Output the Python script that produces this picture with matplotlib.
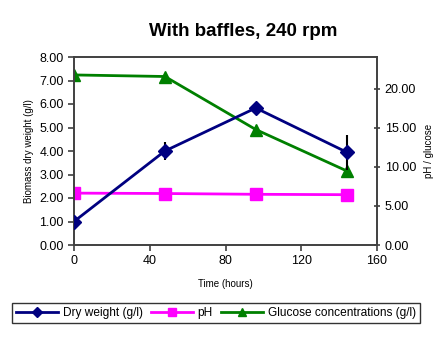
import matplotlib
matplotlib.use("Agg")
import matplotlib.pyplot as plt
from matplotlib.ticker import FormatStrFormatter

plt.rcParams['font.family'] = ['Liberation Sans', 'DejaVu Sans']

time_h = [0, 48, 96, 144]
dry_weight = [1.00, 4.00, 5.83, 3.95]
dry_weight_err = [0.0, 0.40, 0.15, 0.75]
ph = [6.65, 6.60, 6.50, 6.45]
glucose = [21.8, 21.6, 14.8, 9.5]

fig = plt.figure(figsize=(4.43, 3.39), dpi=100)
ax = fig.add_axes([74 / 443, 1 - 245 / 339, 303 / 443, 188 / 339])
ax2 = ax.twinx()

dw = ax.errorbar(time_h, dry_weight, yerr=dry_weight_err, color='#000080', ecolor='black',
                 elinewidth=1.5, lw=2, marker='D', ms=7, label='Dry weight (g/l)', zorder=3)
ph_line, = ax2.plot(time_h, ph, color='#FF00FF', lw=2, marker='s', ms=8, label='pH')
glu_line, = ax2.plot(time_h, glucose, color='#008000', lw=2, marker='^', ms=9,
                     label='Glucose concentrations (g/l)')

ax.set_zorder(ax2.get_zorder() + 1)
ax.patch.set_visible(False)

ax.set_xlim(0, 160)
ax.set_ylim(0, 8)
ax2.set_ylim(0, 24.1)
ax.set_xticks([0, 40, 80, 120, 160])
ax.set_yticks(range(0, 9))
ax2.set_yticks([0, 5, 10, 15, 20])
ax.yaxis.set_major_formatter(FormatStrFormatter('%.2f'))
ax2.yaxis.set_major_formatter(FormatStrFormatter('%.2f'))

for a in (ax, ax2):
    for s in a.spines.values():
        s.set_color('#404040')
        s.set_linewidth(1.2)
ax.tick_params(axis='both', labelsize=9, length=4, width=1.2, color='#404040')
ax2.tick_params(axis='y', labelsize=9, length=4, width=1.2, color='#404040', direction='inout')

ax.set_xlabel('Time (hours)', fontsize=7, labelpad=8)
ax.set_ylabel('Biomass dry weight (g/l)', fontsize=7, labelpad=4)
ax2.set_ylabel('pH / glucose', fontsize=7, labelpad=6)

fig.text(243 / 443, 1 - 32 / 339, 'With baffles, 240 rpm', ha='center', va='center',
         fontsize=13.5, fontweight='bold')

leg = fig.legend([dw[0], ph_line, glu_line],
                 ['Dry weight (g/l)', 'pH', 'Glucose concentrations (g/l)'],
                 loc='center', bbox_to_anchor=(216 / 443, 1 - 313 / 339),
                 ncol=3, fontsize=8.6, frameon=True, fancybox=False, edgecolor='black',
                 handlelength=3.5, columnspacing=0.7, handletextpad=0.4, borderpad=0.3,
                 markerscale=0.7)
leg.get_frame().set_linewidth(1)

fig.savefig('out.png', dpi=100)
